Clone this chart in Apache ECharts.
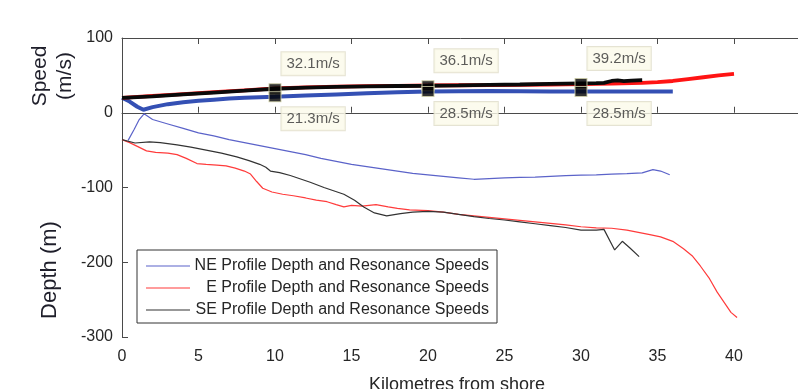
<!DOCTYPE html>
<html>
<head>
<meta charset="utf-8">
<script src="https://cdn.jsdelivr.net/npm/echarts@6/dist/echarts.min.js"></script>
<style>
  html, body { margin: 0; padding: 0; background: #ffffff; }
  #chart { width: 798px; height: 389px; }
</style>
</head>
<body>
<div id="chart"></div>
<script>
// ---- Bathymetry profiles (depth, m) ----
const neDepthKm = [0.4, 0.8, 1.1, 1.44, 2, 3, 4, 5, 6, 7, 8, 9, 10, 11, 12, 13, 14, 15, 16, 17, 18, 19, 20, 21, 22, 23, 24, 25, 26, 27, 28, 29, 30, 31, 32, 33, 34, 34.7, 35.2, 35.8];
const neDepth   = [-37, -22, -10, -1.5, -9, -15, -21, -27, -31, -36, -40, -44, -48, -52, -56, -61, -65, -69, -72, -75, -78, -81, -83, -85, -87, -89, -88, -87, -86.5, -86, -85, -84, -83.5, -83, -82, -81.5, -80.5, -76, -78, -83];

const eDepthKm = [0, 0.5, 1, 1.6, 2.2, 3, 3.6, 4.2, 4.9, 5.5, 6.2, 6.8, 7.4, 8, 8.4, 8.8, 9.2, 9.8, 10.5, 11.2, 12, 12.7, 13.4, 14, 14.5, 15, 15.7, 16.6, 17.4, 18, 18.8, 20, 21, 22, 23, 24, 25, 26, 27, 28, 29, 30, 31, 32, 33, 34, 34.5, 35.2, 36, 36.7, 37.3, 37.8, 38.4, 38.9, 39.4, 39.8, 40.2];
const eDepth   = [-36, -40, -45, -51, -53, -54, -56, -61, -68, -69, -70, -71, -74, -78, -82, -92, -101, -106, -109, -111, -114, -117, -119, -123, -126, -124, -125, -123, -126, -128, -130, -131, -133, -136, -138, -140, -142, -144, -146, -148, -150, -152.5, -154, -154.5, -157, -161, -163, -166, -172, -182, -192, -205, -222, -240, -255, -267, -274];

const seDepthKm = [0, 0.85, 1.8, 2.5, 3.6, 4.5, 5.75, 6.5, 7.5, 8.3, 9.0, 9.4, 9.7, 10.3, 11, 12.3, 13.2, 14.5, 15.2, 15.8, 16.5, 17.3, 18.2, 19, 20, 21, 22, 23, 24, 25, 26, 27, 28, 29, 30, 31, 31.5, 32.2, 32.7, 33.2, 33.8];
const seDepth   = [-36, -40.5, -39, -40, -43, -46, -51, -54, -59, -64, -69, -73, -78, -80, -84, -93, -100, -109, -117, -126, -134, -138, -135, -133, -132, -133, -136, -139, -141.5, -143.5, -146, -148.5, -151, -153.5, -157, -157, -156, -183.5, -172, -181, -192.5];

// ---- Resonance speeds (m/s) ----
const neSpeedKm = [0, 0.5, 1.0, 1.4, 2, 3, 4, 5, 6, 7, 8, 9, 10, 12, 14, 16, 18, 20, 22, 24, 26, 28, 30, 32, 34, 36];
const neSpeed   = [20, 15, 8, 4, 7.5, 11.5, 14, 16, 17.5, 19, 20, 20.8, 21.3, 23, 24.5, 26, 27.3, 28.5, 28.8, 29, 28.8, 28.3, 28.5, 28.5, 28.3, 28.3];

const eSpeedKm = [0, 2, 4, 6, 8, 10, 12, 14, 16, 18, 20, 22, 24, 26, 28, 30, 32, 34, 35, 36, 37, 38, 39, 40];
const eSpeed   = [20, 22.5, 25, 27.5, 30, 32.5, 34, 35, 35.5, 36, 36.5, 36.8, 37, 37.3, 37.8, 38.2, 39, 40, 41, 42.5, 45, 47.5, 50, 52];

const seSpeedKm = [0, 2, 4, 6, 8, 10, 12, 14, 16, 18, 20, 22, 24, 26, 28, 30, 31, 31.5, 32, 32.4, 32.8, 33.3, 34];
const seSpeed   = [20, 22, 24.5, 27, 29.5, 32.1, 33.5, 34.5, 35.3, 35.8, 36.1, 36.6, 37.2, 37.8, 38.5, 39.2, 39.5, 40, 42.5, 43.2, 42.3, 43, 43.7];

// ---- Data tips ----
const tipKm    = [10, 20, 30];
const tipUpper = [32.1, 36.1, 39.2];
const tipLower = [21.3, 28.5, 28.5];

const legendNames = [
  'NE Profile Depth and Resonance Speeds',
  'E Profile Depth and Resonance Speeds',
  'SE Profile Depth and Resonance Speeds'
];

const FONT = '"Liberation Sans", Arial, Helvetica, sans-serif';
const zip = (xs, ys) => xs.map((x, i) => [x, ys[i]]);

const tipLabelBase = {
  show: true,
  formatter: p => p.value[1].toFixed(1) + 'm/s',
  fontFamily: FONT,
  fontSize: 15,
  lineHeight: 15,
  color: '#333333',
  backgroundColor: '#fbfaea',
  borderColor: '#dedcc8',
  borderWidth: 1,
  padding: [4, 5, 4, 5],
  align: 'left',
  verticalAlign: 'top'
};

const tipData = [];
tipKm.forEach((k, i) => {
  tipData.push({ value: [k, tipUpper[i]], label: Object.assign({}, tipLabelBase, { position: [13, -31] }) });
  tipData.push({ value: [k, tipLower[i]], label: Object.assign({}, tipLabelBase, { position: [13, 16] }) });
});

const depthLine = (name, xs, ys, color) => ({
  name, type: 'line', data: zip(xs, ys), symbol: 'none', smooth: false,
  lineStyle: { color, width: 1.2 }, itemStyle: { color }, z: 2, silent: true
});
const speedLine = (name, xs, ys, color, w) => ({
  name, type: 'line', data: zip(xs, ys), symbol: 'none', smooth: false,
  lineStyle: { color, width: w }, itemStyle: { color }, z: 3, silent: true
});

const chart = echarts.init(document.getElementById('chart'), null, { renderer: 'canvas' });
chart.setOption({
  animation: false,
  backgroundColor: '#ffffff',
  textStyle: { fontFamily: FONT },
  // the plot box runs on past the right edge of the page (x = 45 km sits off-canvas)
  grid: { left: 122, top: 38, width: 688.5, height: 299, containLabel: false, outerBoundsMode: 'none' },
  xAxis: [
    {
      type: 'value', position: 'bottom', min: 0, max: 45, interval: 5,
      axisLine: { show: true, lineStyle: { color: '#4a4a4a', width: 1 } },
      axisTick: { show: true, inside: true, length: 6, lineStyle: { color: '#4a4a4a' } },
      axisLabel: { color: '#262626', fontSize: 16, fontFamily: FONT, margin: 12 },
      splitLine: { show: false }
    },
    {
      type: 'value', position: 'top', min: 0, max: 45, interval: 5,
      axisLine: { show: true, lineStyle: { color: '#4a4a4a', width: 1 } },
      axisTick: { show: true, inside: true, length: 6, lineStyle: { color: '#4a4a4a' } },
      axisLabel: { show: false },
      splitLine: { show: false }
    }
  ],
  yAxis: {
    type: 'value', min: -300, max: 100, interval: 100,
    axisLine: { show: true, lineStyle: { color: '#4a4a4a', width: 1 } },
    axisTick: { show: true, inside: true, length: 6, lineStyle: { color: '#4a4a4a' } },
    axisLabel: { color: '#262626', fontSize: 16, fontFamily: FONT, margin: 9 },
    splitLine: { show: false }
  },
  legend: {
    data: legendNames,
    orient: 'vertical',
    left: 137, top: 250,
    backgroundColor: '#ffffff',
    borderColor: '#333333', borderWidth: 1,
    padding: [8, 8, 5, 9],
    itemWidth: 44, itemHeight: 16, itemGap: 6,
    icon: 'path://M0,7.4 L44,7.4 L44,8.6 L0,8.6 Z',
    formatter: name => '{t|' + name + '}',
    textStyle: {
      color: '#262626', fontFamily: FONT, fontSize: 16,
      rich: { t: { width: 294, align: 'right', fontSize: 16, fontFamily: FONT, color: '#262626' } }
    },
    selectedMode: false
  },
  graphic: [
    {
      type: 'text', x: 53, y: 76, rotation: Math.PI / 2,
      style: { text: 'Speed\n(m/s)', font: '21px ' + FONT, fill: '#1e1e2a', align: 'center', verticalAlign: 'middle', lineHeight: 25 }
    },
    {
      type: 'text', x: 50, y: 270, rotation: Math.PI / 2,
      style: { text: 'Depth (m)', font: '22px ' + FONT, fill: '#1e1e2a', align: 'center', verticalAlign: 'middle' }
    },
    {
      type: 'text', x: 457, y: 385,
      style: { text: 'Kilometres from shore', font: '18px ' + FONT, fill: '#262626', align: 'center', verticalAlign: 'middle' }
    }
  ],
  series: [
    depthLine(legendNames[0], neDepthKm, neDepth, '#5b63c9'),
    depthLine(legendNames[1], eDepthKm, eDepth, '#ff3b3b'),
    depthLine(legendNames[2], seDepthKm, seDepth, '#333333'),
    speedLine('NE resonance speed', neSpeedKm, neSpeed, '#3450b4', 4),
    speedLine('E resonance speed', eSpeedKm, eSpeed, '#ff1414', 3.8),
    speedLine('SE resonance speed', seSpeedKm, seSpeed, '#0a0a0a', 3.8),
    {
      name: 'Data tips', type: 'scatter', data: tipData,
      symbol: 'rect', symbolSize: [12, 10],
      itemStyle: { color: '#000000', borderColor: '#cfcfa8', borderWidth: 1 },
      z: 5, silent: true
    }
  ]
});
</script>
</body>
</html>
